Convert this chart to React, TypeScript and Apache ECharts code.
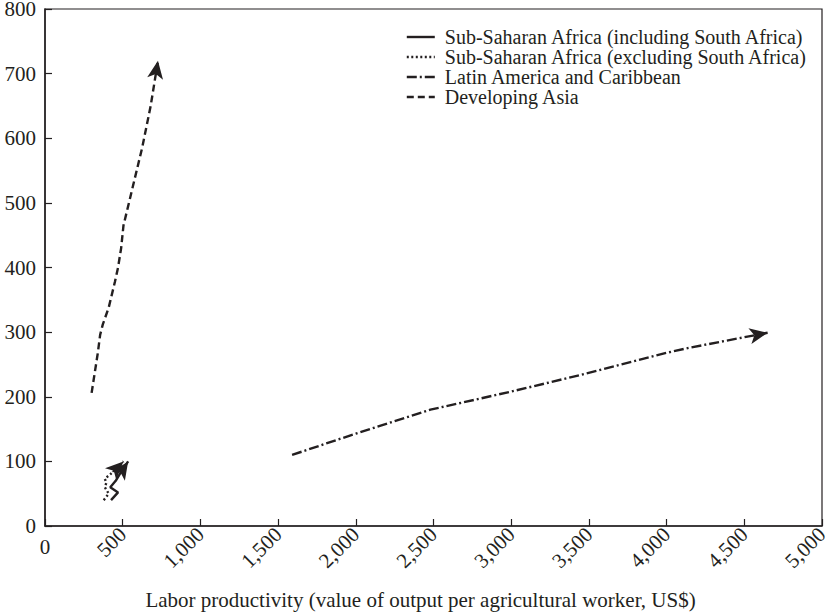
import React, { useEffect, useRef } from "react";
import * as echarts from "echarts";

const seriesNames = [
  "Sub-Saharan Africa (including South Africa)",
  "Sub-Saharan Africa (excluding South Africa)",
  "Latin America and Caribbean",
  "Developing Asia",
];

// [labor productivity (US$), land productivity]
const africaIncl: number[][] = [
  [425, 40], [470, 52], [420, 60], [455, 70], [480, 80], [535, 100],
];
const africaExcl: number[][] = [
  [378, 40], [410, 50], [385, 60], [395, 67], [385, 73], [420, 80], [505, 100],
];
const latinAmerica: number[][] = [
  [1590, 110], [2000, 143], [2480, 180], [3000, 208], [3450, 234], [4000, 268], [4150, 276], [4650, 299],
];
const developingAsia: number[][] = [
  [300, 206], [340, 268], [355, 296], [372, 312], [410, 338], [450, 378], [470, 400],
  [490, 430], [505, 465], [550, 510], [625, 585], [680, 650], [727, 720],
];

const xTickStep = 500;
const yTickStep = 100;
const xMax = 5000;
const yMax = 800;

const FONT = "Liberation Serif";
const INK = "#231f20";

const dashStyles: any[] = ["solid", [2, 2.5], [10, 3, 2, 3], [7, 4]];
const allData = [africaIncl, africaExcl, latinAmerica, developingAsia];

export default function App() {
  const ref = useRef<HTMLDivElement>(null);
  useEffect(() => {
    document.body.style.margin = "0";
    if (!ref.current) return;
    const chart = echarts.init(ref.current, undefined, { renderer: "svg" });
    const series = allData.map((data, i) => {
      const n = data.length;
      return {
        name: seriesNames[i],
        type: "line",
        data,
        showSymbol: false,
        symbol: "none",
        smooth: false,
        lineStyle: { color: INK, width: 2.4, type: dashStyles[i] },
        itemStyle: { color: INK },
        markLine: {
          silent: true,
          symbol: ["none", "arrow"],
          symbolSize: [12, 18],
          label: { show: false },
          lineStyle: { color: INK, width: 0, type: "solid" },
          data: [[{ coord: data[n - 2] }, { coord: data[n - 1] }]],
        },
      };
    });
    chart.setOption({
      animation: false,
      grid: {
        left: 45,
        right: 9,
        top: 9,
        bottom: 88,
        containLabel: false,
        outerBoundsMode: "none",
        show: true,
        borderColor: INK,
        borderWidth: 1.2,
        backgroundColor: "transparent",
      },
      legend: {
        orient: "vertical",
        right: 18,
        top: 22,
        itemWidth: 28,
        itemHeight: 2,
        itemGap: 0,
        itemStyle: { opacity: 0 },
        lineStyle: { width: 2.4 },
        textStyle: { fontFamily: FONT, fontSize: 20, lineHeight: 20, color: INK, padding: [0, 0, 0, 5] },
        data: seriesNames,
      },
      xAxis: [
        {
          type: "value",
          min: 0,
          max: xMax,
          interval: xTickStep,
          splitLine: { show: false },
          axisLine: { show: true, lineStyle: { color: INK, width: 1.5 } },
          axisTick: { show: true, inside: true, length: 7, lineStyle: { color: INK, width: 1.2 } },
          axisLabel: {
            rotate: 45,
            margin: 5,
            fontFamily: FONT,
            fontSize: 21,
            color: INK,
            formatter: (v: number) => (v === 0 ? "" : v.toLocaleString("en-US")),
          },
          name: "Labor productivity (value of output per agricultural worker, US$)",
          nameLocation: "middle",
          nameGap: 63,
          nameTextStyle: { fontFamily: FONT, fontSize: 21, color: INK, padding: [0, 26, 0, 0] },
        },
        {
          type: "value",
          position: "bottom",
          min: 0,
          max: xMax,
          interval: xMax,
          splitLine: { show: false },
          axisLine: { show: false },
          axisTick: { show: false },
          axisLabel: {
            margin: 10,
            fontFamily: FONT,
            fontSize: 21,
            color: INK,
            formatter: (v: number) => (v === 0 ? "0" : ""),
          },
        },
      ],
      yAxis: {
        type: "value",
        min: 0,
        max: yMax,
        interval: yTickStep,
        splitLine: { show: false },
        axisLine: { show: true, lineStyle: { color: INK, width: 1.5 } },
        axisTick: { show: true, inside: true, length: 7, lineStyle: { color: INK, width: 1.2 } },
        axisLabel: { margin: 9, fontFamily: FONT, fontSize: 21, color: INK },
      },
      series,
    });
    return () => chart.dispose();
  }, []);
  return <div ref={ref} style={{ width: 831, height: 614 }} />;
}
